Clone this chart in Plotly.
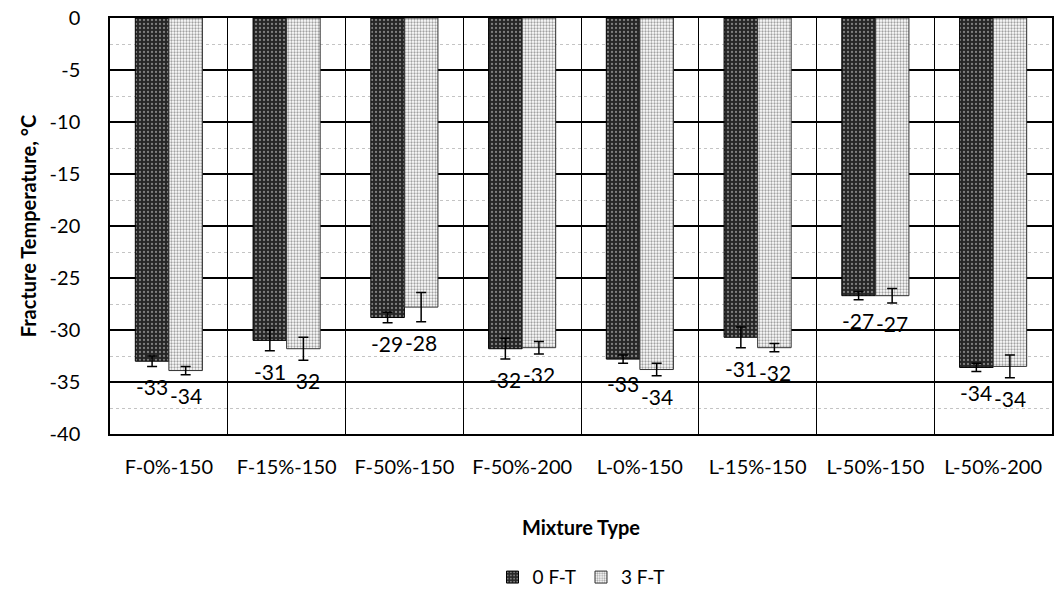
import plotly.graph_objects as go

categories = ["F-0%-150", "F-15%-150", "F-50%-150", "F-50%-200",
              "L-0%-150", "L-15%-150", "L-50%-150", "L-50%-200"]
ft0 = [-33.0, -31.0, -28.8, -31.8, -32.8, -30.7, -26.7, -33.6]
ft0_err = [0.5, 1.0, 0.5, 1.0, 0.4, 1.0, 0.4, 0.4]
ft3 = [-33.9, -31.8, -27.8, -31.7, -33.8, -31.7, -26.7, -33.5]
ft3_err = [0.4, 1.1, 1.4, 0.6, 0.6, 0.4, 0.7, 1.1]
y_ticks = [0, -5, -10, -15, -20, -25, -30, -35, -40]
y_tick_text = ["0", "-5", "-10", "-15", "-20", "-25", "-30", "-35", "-40"]

font = "Lato, 'Open Sans', sans-serif"

fig = go.Figure()
fig.add_trace(go.Bar(
    name="0 F-T", x=categories, y=ft0,
    marker=dict(color="#2e2e2e", line=dict(color="black", width=1),
                pattern=dict(shape=".", fgcolor="#d8d8d8", bgcolor="#262626",
                             size=4, solidity=0.25)),
    error_y=dict(type="data", array=ft0_err, color="black", thickness=1.5, width=5),
))
fig.add_trace(go.Bar(
    name="3 F-T", x=categories, y=ft3,
    marker=dict(color="#c0c0c0", line=dict(color="#333333", width=1),
                pattern=dict(shape=".", fgcolor="#444444", bgcolor="white",
                             size=3, solidity=0.45)),
    error_y=dict(type="data", array=ft3_err, color="black", thickness=1.5, width=5),
))

# data labels below each bar end + error bar
for vals, errs, shift in ((ft0, ft0_err, -17), (ft3, ft3_err, 17)):
    for c, v, e in zip(categories, vals, errs):
        fig.add_annotation(x=c, y=v - e, xref="x", yref="y", text=f"{v:.0f}",
                           showarrow=False, yanchor="top", xshift=shift, yshift=-6,
                           font=dict(size=21, color="black", family=font))

fig.update_layout(
    width=1055, height=589,
    margin=dict(l=110, r=3, t=18, b=155, autoexpand=False),
    paper_bgcolor="white", plot_bgcolor="white",
    barmode="group", bargap=0.43, bargroupgap=0,
    font=dict(family=font, size=20, color="black"),
    legend=dict(orientation="h", x=0.5, xanchor="center",
                yref="container", y=0.02, yanchor="middle",
                font=dict(size=19), itemwidth=30, traceorder="normal"),
    showlegend=True,
)
fig.update_xaxes(
    title=dict(text="<b>Mixture Type</b>", font=dict(size=20), standoff=44),
    tickson="boundaries", showgrid=True, gridcolor="black", gridwidth=1.2,
    showline=True, linecolor="black", linewidth=1.5, mirror=True,
    ticks="", tickfont=dict(size=20), ticklabelstandoff=14, automargin=False,
)
fig.update_yaxes(
    title=dict(text="<b>Fracture Temperature, °C</b>", font=dict(size=20), standoff=8),
    range=[-40, 0], tickvals=y_ticks, ticktext=y_tick_text,
    showgrid=True, gridcolor="black", gridwidth=1.5,
    zeroline=False, showline=True, linecolor="black", linewidth=1.5, mirror=True,
    ticks="", tickfont=dict(size=20), ticklabelstandoff=24, automargin=False,
    minor=dict(dtick=2.5, showgrid=True, gridcolor="#c4c4c4", griddash="dot", gridwidth=1),
)

fig.write_html("out.html")
